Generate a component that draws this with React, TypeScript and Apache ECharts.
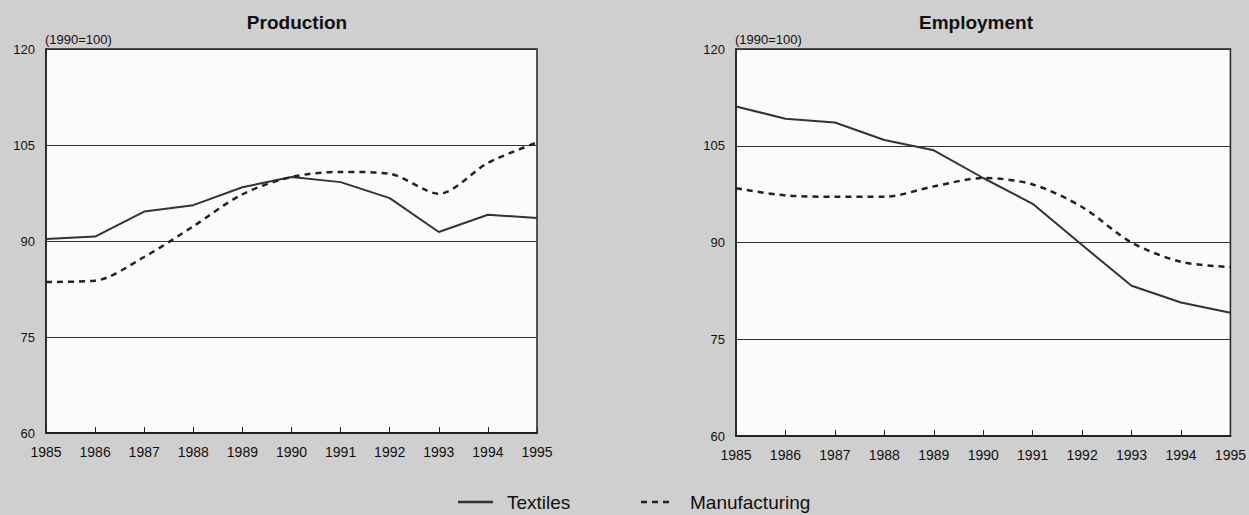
import React, { useEffect, useRef } from "react";
import * as echarts from "echarts";

const years = ["1985", "1986", "1987", "1988", "1989", "1990", "1991", "1992", "1993", "1994", "1995"];
const prodTextiles = [90.3, 90.7, 94.6, 95.6, 98.4, 100, 99.2, 96.7, 91.4, 94.1, 93.6];
const prodManufacturing = [83.6, 83.8, 87.5, 92.3, 97.3, 100, 100.8, 100.5, 97.4, 102.2, 105.4];
const empTextiles = [111.1, 109.2, 108.6, 105.9, 104.3, 100, 96.0, 89.6, 83.3, 80.7, 79.1];
const empManufacturing = [98.4, 97.3, 97.1, 97.1, 98.7, 100, 99.0, 95.5, 90.0, 87.0, 86.2];
const panelTitles = ["Production", "Employment"];
const baseNote = "(1990=100)";
const seriesNames = ["Textiles", "Manufacturing"];

const FONT = "'Liberation Sans', Arial, Helvetica, sans-serif";
const INK = "#222";

export default function App() {
  const ref = useRef<HTMLDivElement>(null);
  useEffect(() => {
    if (!ref.current) return;
    const chart = echarts.init(ref.current, null, { renderer: "svg" });
    const grids = [
      { left: 46, top: 49, width: 491, height: 384 },
      { left: 736, top: 49, width: 496, height: 387 },
    ];
    const xAxis = grids.map((_, i) => ({
      type: "category",
      gridIndex: i,
      data: years,
      boundaryGap: false,
      axisLine: { show: true, lineStyle: { color: INK, width: 2 } },
      axisTick: { show: true, inside: true, length: 6, interval: 0, lineStyle: { color: INK, width: 1 } },
      axisLabel: { interval: 0, color: "#111", fontSize: 14, fontFamily: FONT, margin: 12 },
      splitLine: { show: false },
    }));
    const yAxis = grids.map((_, i) => ({
      type: "value",
      gridIndex: i,
      min: 60,
      max: 120,
      interval: 15,
      axisLine: { show: true, lineStyle: { color: INK, width: 1.5 } },
      axisTick: { show: false },
      axisLabel: { color: "#111", fontSize: 13, fontFamily: FONT, margin: 11 },
      splitLine: { show: true, lineStyle: { color: "#333", width: 1 } },
    }));
    const mk = (name: string, data: number[], idx: number, dashed: boolean) => ({
      name,
      type: "line",
      xAxisIndex: idx,
      yAxisIndex: idx,
      data,
      symbol: "none",
      smooth: dashed ? 0.3 : false,
      lineStyle: dashed
        ? { color: INK, width: 2.5, type: [6, 5] }
        : { color: "#333", width: 2 },
      itemStyle: { color: INK },
      z: 3,
    });
    const graphics: any[] = [];
    const centers = [297, 976];
    const noteX = [45, 735];
    for (let i = 0; i < 2; i++) {
      graphics.push({
        type: "text",
        x: centers[i],
        y: 22,
        style: {
          text: panelTitles[i],
          fontSize: 19,
          fontWeight: "bold",
          fontFamily: FONT,
          fill: "#111",
          textAlign: "center",
          textVerticalAlign: "middle",
        },
      });
      graphics.push({
        type: "text",
        x: noteX[i],
        y: 39,
        style: {
          text: baseNote,
          fontSize: 13,
          fontFamily: FONT,
          fill: "#111",
          textAlign: "left",
          textVerticalAlign: "middle",
        },
      });
    }
    // legend
    const legY = 502;
    graphics.push({
      type: "line",
      shape: { x1: 458, y1: legY, x2: 493, y2: legY },
      style: { stroke: "#333", lineWidth: 2.5 },
    });
    graphics.push({
      type: "text",
      x: 507,
      y: legY,
      style: { text: seriesNames[0], fontSize: 19, fontFamily: FONT, fill: "#111", textAlign: "left", textVerticalAlign: "middle" },
    });
    graphics.push({
      type: "line",
      shape: { x1: 641, y1: legY, x2: 673, y2: legY },
      style: { stroke: INK, lineWidth: 2.5, lineDash: [6, 5] },
    });
    graphics.push({
      type: "text",
      x: 690,
      y: legY,
      style: { text: seriesNames[1], fontSize: 19, fontFamily: FONT, fill: "#111", textAlign: "left", textVerticalAlign: "middle" },
    });
    chart.setOption({
      animation: false,
      backgroundColor: "#cfcfcf",
      grid: grids.map((g) => ({
        ...g,
        show: true,
        backgroundColor: "#fbfbfb",
        borderColor: INK,
        borderWidth: 1.5,
      })),
      xAxis,
      yAxis,
      graphic: graphics,
      series: [
        mk(seriesNames[0], prodTextiles, 0, false),
        mk(seriesNames[1], prodManufacturing, 0, true),
        mk(seriesNames[0], empTextiles, 1, false),
        mk(seriesNames[1], empManufacturing, 1, true),
      ],
    });
    return () => chart.dispose();
  }, []);
  return (
    <div
      ref={ref}
      style={{ position: "absolute", left: 0, top: 0, width: 1249, height: 515 }}
    />
  );
}
